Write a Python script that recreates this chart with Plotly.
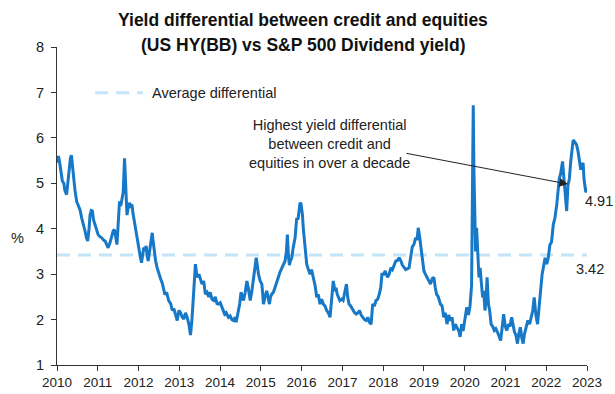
import plotly.graph_objects as go

# ---- data ----
dates = [
    "2010-01-05","2010-01-14","2010-01-22","2010-02-05","2010-02-18","2010-03-03","2010-03-12","2010-03-28",
    "2010-04-12","2010-04-22","2010-05-01","2010-05-10","2010-05-19","2010-05-28","2010-06-11","2010-06-26",
    "2010-07-12","2010-07-26","2010-08-10","2010-08-27","2010-09-09","2010-09-22","2010-10-03","2010-10-15",
    "2010-10-24","2010-11-04","2010-11-14","2010-11-24","2010-12-08","2010-12-21",
    "2011-01-04","2011-01-22","2011-02-06","2011-02-22","2011-03-08","2011-03-22","2011-04-04","2011-04-22",
    "2011-05-08","2011-05-19","2011-05-31","2011-06-11","2011-06-22","2011-07-01","2011-07-08","2011-07-15",
    "2011-07-26","2011-08-06","2011-08-17","2011-08-29","2011-09-05","2011-09-11","2011-09-20","2011-09-30",
    "2011-10-11","2011-10-23","2011-11-04","2011-11-12","2011-11-19","2011-12-04","2011-12-19",
    "2012-01-03","2012-01-16","2012-01-28","2012-02-08","2012-02-17","2012-02-28","2012-03-10","2012-03-19",
    "2012-03-28","2012-04-09","2012-04-18","2012-05-03","2012-05-10","2012-05-17","2012-06-02","2012-06-15",
    "2012-07-01","2012-07-17","2012-08-01","2012-08-13","2012-08-25","2012-09-09","2012-09-27","2012-10-15",
    "2012-10-30","2012-11-13","2012-11-28","2012-12-13","2012-12-28",
    "2013-01-12","2013-01-27","2013-02-10","2013-02-25","2013-03-12","2013-03-27","2013-04-11","2013-04-24",
    "2013-05-10","2013-05-25","2013-06-09","2013-06-25","2013-07-08","2013-07-23","2013-08-07","2013-08-22",
    "2013-09-06","2013-09-22","2013-10-05","2013-10-20","2013-11-04","2013-11-19","2013-12-04","2013-12-18",
    "2014-01-02","2014-01-17","2014-01-29","2014-02-11","2014-02-25","2014-03-17","2014-04-01","2014-04-16",
    "2014-05-01","2014-05-16","2014-05-25","2014-06-03","2014-06-15","2014-06-26","2014-07-07","2014-07-18",
    "2014-07-30","2014-08-14","2014-08-29","2014-09-10","2014-09-28","2014-10-11","2014-10-27","2014-11-09",
    "2014-11-21","2014-11-30","2014-12-11","2014-12-26",
    "2015-01-10","2015-01-17","2015-01-24","2015-02-08","2015-02-23","2015-03-07","2015-03-19","2015-03-29",
    "2015-04-09","2015-04-24","2015-05-09","2015-05-24","2015-06-07","2015-06-23","2015-07-08","2015-07-22",
    "2015-08-06","2015-08-18","2015-08-27","2015-09-05","2015-09-14","2015-09-24","2015-10-05","2015-10-19",
    "2015-11-04","2015-11-12","2015-11-19","2015-11-30","2015-12-09","2015-12-18","2015-12-27",
    "2016-01-02","2016-01-09","2016-01-16","2016-01-23","2016-02-01","2016-02-10","2016-02-16","2016-03-02",
    "2016-03-17","2016-03-30","2016-04-15","2016-05-01","2016-05-16","2016-05-30","2016-06-14","2016-06-29",
    "2016-07-14","2016-07-29","2016-08-13","2016-08-28","2016-09-12","2016-09-25","2016-10-11","2016-10-26",
    "2016-11-05","2016-11-15","2016-11-28","2016-12-09","2016-12-24",
    "2017-01-07","2017-01-22","2017-02-06","2017-02-17","2017-03-01","2017-03-16","2017-04-05","2017-04-20",
    "2017-05-05","2017-05-20","2017-06-03","2017-06-18","2017-07-03","2017-07-18","2017-08-02","2017-08-16",
    "2017-08-31","2017-09-15","2017-09-29","2017-10-14","2017-10-29","2017-11-13","2017-11-27","2017-12-10",
    "2017-12-21",
    "2018-01-06","2018-01-19","2018-02-09","2018-02-24","2018-03-11","2018-03-25","2018-04-09","2018-04-24",
    "2018-05-10","2018-05-24","2018-06-07","2018-06-22","2018-07-07","2018-07-22","2018-08-07","2018-08-21",
    "2018-09-03","2018-09-19","2018-10-04","2018-10-19","2018-10-31","2018-11-11","2018-11-22","2018-12-03",
    "2018-12-17",
    "2019-01-01","2019-01-14","2019-01-31","2019-02-14","2019-03-01","2019-03-16","2019-03-31","2019-04-13",
    "2019-04-24","2019-05-10","2019-05-29","2019-06-13","2019-06-28","2019-07-11","2019-07-27","2019-08-11",
    "2019-08-27","2019-09-10","2019-09-25","2019-10-09","2019-10-25","2019-11-09","2019-11-22","2019-12-05",
    "2019-12-18",
    "2020-01-05","2020-01-20","2020-02-04","2020-02-18","2020-03-03","2020-03-10","2020-03-18","2020-03-24",
    "2020-03-31","2020-04-08","2020-04-17","2020-04-28","2020-05-08","2020-05-18","2020-05-29","2020-06-10",
    "2020-06-20","2020-07-01","2020-07-10","2020-07-20","2020-08-01","2020-08-12","2020-08-25","2020-09-08",
    "2020-09-22","2020-10-06","2020-10-20","2020-11-05","2020-11-18","2020-12-01","2020-12-15","2020-12-30",
    "2021-01-12","2021-01-28","2021-02-10","2021-02-25","2021-03-10","2021-03-22","2021-04-05","2021-04-18",
    "2021-05-01","2021-05-14","2021-05-27","2021-06-08","2021-06-20","2021-07-05","2021-07-20","2021-08-05",
    "2021-08-20","2021-09-02","2021-09-15","2021-09-30","2021-10-15","2021-10-28","2021-11-10","2021-11-25",
    "2021-12-10","2021-12-22",
    "2022-01-05","2022-01-19","2022-02-03","2022-02-17","2022-03-05","2022-03-20","2022-04-05","2022-04-17",
    "2022-04-28","2022-05-09","2022-05-18","2022-05-27","2022-06-05","2022-06-14","2022-06-23","2022-07-03",
    "2022-07-14","2022-07-27","2022-08-09","2022-08-21","2022-08-30","2022-09-10","2022-09-19","2022-09-29",
    "2022-10-13","2022-10-24","2022-11-06","2022-11-17","2022-11-27","2022-12-05","2022-12-12","2022-12-21",
    "2022-12-30",
]
differential = [
    5.45,5.60,5.50,5.25,5.05,5.00,4.85,4.75,
    5.10,5.40,5.55,5.62,5.35,5.10,4.85,4.60,
    4.50,4.42,4.24,4.10,3.95,3.80,3.73,4.00,
    4.30,4.40,4.39,4.20,4.09,3.95,
    3.87,3.82,3.80,3.75,3.73,3.65,3.58,3.70,
    3.87,3.95,3.98,3.80,3.65,4.02,4.40,4.60,
    4.50,4.64,4.80,5.55,5.20,4.90,4.30,4.45,
    4.57,4.50,4.53,4.35,4.24,4.00,3.80,
    3.58,3.40,3.25,3.50,3.58,3.55,3.62,3.40,
    3.29,3.50,3.70,3.91,3.75,3.58,3.30,3.15,
    3.00,2.90,2.80,2.70,2.55,2.60,2.42,2.35,
    2.20,2.24,2.10,1.98,2.20,
    2.15,2.05,2.01,2.15,2.05,1.90,1.66,2.00,
    2.78,3.22,2.93,3.00,2.90,2.78,2.85,2.56,
    2.60,2.50,2.60,2.45,2.42,2.50,2.35,2.34,
    2.37,2.27,2.20,2.12,2.15,2.05,2.08,2.00,
    1.98,2.05,1.94,2.05,2.20,2.35,2.60,2.50,
    2.42,2.60,2.85,2.70,2.42,2.60,2.93,3.10,
    3.36,3.20,3.00,2.85,
    2.78,2.60,2.34,2.50,2.63,2.50,2.34,2.50,
    2.56,2.60,2.70,2.80,2.93,3.05,3.14,3.20,
    3.29,3.50,3.87,3.40,3.20,3.30,3.36,3.60,
    3.80,4.05,4.24,4.20,4.45,4.57,4.55,
    4.46,4.30,4.02,3.85,3.51,3.40,3.22,3.10,
    3.00,3.10,2.93,2.75,2.49,2.55,2.34,2.45,
    2.34,2.30,2.20,2.15,2.05,2.40,2.85,2.63,
    2.70,2.56,2.50,2.42,2.45,
    2.42,2.60,2.78,2.50,2.34,2.30,2.20,2.15,
    2.12,2.15,2.20,2.10,2.05,2.00,1.98,2.05,
    1.94,1.90,2.34,2.30,2.42,2.45,2.56,2.70,
    3.00,
    3.00,3.07,2.93,3.00,3.14,3.10,3.22,3.29,
    3.30,3.36,3.30,3.20,3.15,3.10,3.12,3.14,
    3.35,3.60,3.66,3.80,3.75,4.02,3.85,3.65,
    3.36,
    3.07,3.00,2.93,2.85,2.78,2.90,2.93,2.70,
    2.56,2.50,2.34,2.30,2.05,2.15,1.90,2.10,
    1.98,2.05,1.76,1.90,1.80,1.75,1.62,1.90,
    1.75,
    2.10,2.27,2.10,2.30,2.75,4.90,6.72,5.30,
    4.20,3.50,4.02,3.30,2.93,3.14,2.71,2.49,
    2.63,2.20,2.42,2.93,2.34,2.20,1.90,1.85,
    1.76,1.80,1.73,1.60,1.54,1.80,2.12,1.85,
    1.76,1.90,1.85,2.05,1.90,1.73,1.65,1.47,
    1.70,1.83,1.60,1.47,1.68,1.85,1.98,1.90,
    2.05,2.20,2.49,2.10,1.90,2.35,2.60,3.00,
    3.22,3.36,
    3.22,3.36,3.65,3.70,4.09,4.24,4.53,4.80,
    5.11,5.20,5.35,5.48,5.20,4.95,4.60,4.39,
    4.95,5.10,5.50,5.75,5.95,5.92,5.88,5.85,
    5.70,5.48,5.30,5.40,5.45,5.10,4.95,4.80,
    4.91,
]
average_differential = 3.42
latest_value = 4.91
avg_range = ["2010-01-01", "2023-01-01"]
year_ticks = [str(y) for y in range(2010, 2024)]

FONT = "Liberation Sans Narrow, Arial Narrow, Liberation Sans, Arial, sans-serif"
LINE_COLOR = "#1778C8"
AVG_COLOR = "#C4E4F8"
TXT = "#222"

fig = go.Figure()

fig.add_trace(go.Scatter(
    x=avg_range, y=[average_differential, average_differential],
    mode="lines", line=dict(color=AVG_COLOR, width=3, dash="13px,8px"),
    hoverinfo="skip", showlegend=False,
))

fig.add_trace(go.Scatter(
    x=dates, y=differential, mode="lines",
    line=dict(color=LINE_COLOR, width=3), showlegend=False,
))

# title (two lines)
fig.add_annotation(xref="paper", yref="paper", x=0.465, y=1.085,
                   text="<b>Yield differential between credit and equities</b>",
                   showarrow=False, xanchor="center", yanchor="middle",
                   font=dict(family=FONT, size=17.5, color="#111"))
fig.add_annotation(xref="paper", yref="paper", x=0.465, y=1.006,
                   text="<b>(US HY(BB) vs S&P 500 Dividend yield)</b>",
                   showarrow=False, xanchor="center", yanchor="middle",
                   font=dict(family=FONT, size=17.5, color="#111"))

# legend drawn manually
fig.add_shape(type="line", xref="paper", yref="paper",
              x0=0.072, x1=0.162, y0=0.856, y1=0.856,
              line=dict(color=AVG_COLOR, width=3, dash="13px,8px"))
fig.add_annotation(xref="paper", yref="paper", x=0.175, y=0.856,
                   text="Average differential", showarrow=False,
                   xanchor="left", yanchor="middle",
                   font=dict(family=FONT, size=14.5, color=TXT))

# callout text and arrow
fig.add_annotation(xref="paper", yref="paper", x=0.515, y=0.695,
                   text="Highest yield differential<br>between credit and<br>equities in over a decade",
                   showarrow=False, xanchor="center", yanchor="middle", align="center",
                   font=dict(family=FONT, size=14.5, color=TXT))
fig.add_annotation(xref="paper", yref="paper", x=0.964, y=0.569,
                   text="", showarrow=True, arrowhead=2, arrowsize=1.7, arrowwidth=1,
                   arrowcolor=TXT, axref="pixel", ayref="pixel", ax=-163, ay=-31, standoff=0)

# value labels
fig.add_annotation(x=avg_range[1], y=latest_value, text=f"{latest_value:.2f}",
                   showarrow=False, xanchor="left", yanchor="middle", xshift=-4, yshift=-14,
                   font=dict(family=FONT, size=14.5, color=TXT))
fig.add_annotation(x=avg_range[1], y=average_differential, text=f"{average_differential:.2f}",
                   showarrow=False, xanchor="center", yanchor="middle", xshift=3, yshift=-14,
                   font=dict(family=FONT, size=14.5, color=TXT))

# y-axis title
fig.add_annotation(xref="paper", yref="paper", x=-0.075, y=0.40, text="%",
                   showarrow=False, xanchor="center", yanchor="middle",
                   font=dict(family=FONT, size=14.5, color=TXT))

fig.update_layout(
    width=615, height=394,
    margin=dict(l=57, r=28, t=47, b=29, autoexpand=False),
    paper_bgcolor="white", plot_bgcolor="white",
    font=dict(family=FONT, size=14.5, color=TXT),
    xaxis=dict(type="date", range=["2010-01-01", "2023-01-01"], automargin=False,
               tickmode="array", tickvals=[f"{y}-01-01" for y in year_ticks], ticktext=year_ticks,
               showgrid=False, zeroline=False, showline=True, linecolor="#333", linewidth=1,
               ticks="outside", ticklen=5, tickcolor="#333", ticklabelstandoff=0,
               tickfont=dict(family=FONT, size=13.5, color=TXT)),
    yaxis=dict(range=[1, 8], dtick=1, showgrid=False, zeroline=False, automargin=False,
               showline=True, linecolor="#333", linewidth=1,
               ticks="outside", ticklen=5, tickcolor="#333", ticklabelstandoff=4,
               tickfont=dict(family=FONT, size=14.5, color=TXT)),
)

fig.write_html("out.html")
